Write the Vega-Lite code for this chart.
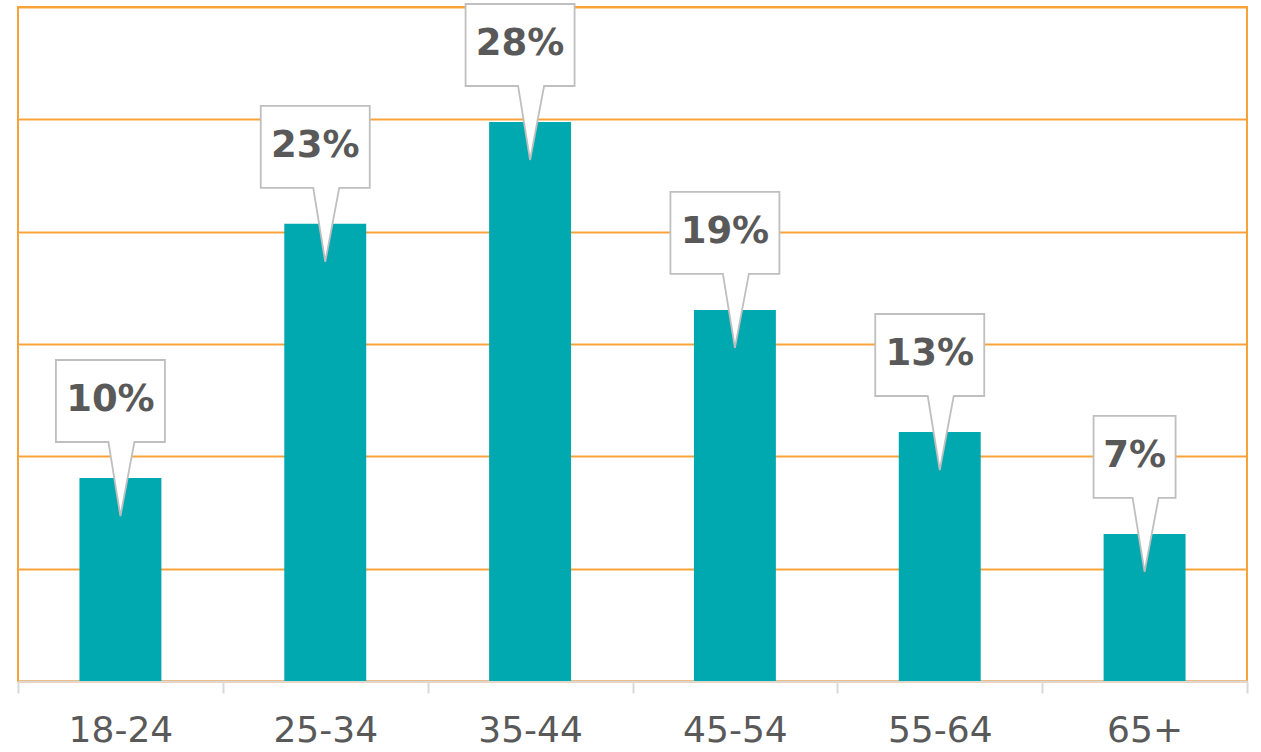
{
  "$schema": "https://vega.github.io/schema/vega-lite/v6.json",
  "width": 1229,
  "height": 674,
  "autosize": "none",
  "padding": {"left": 18, "top": 7, "right": 14, "bottom": 71},
  "background": "white",
  "view": {"stroke": "#F8A33A", "strokeWidth": 2},
  "data": {
    "values": [
      {"age": "18-24", "value": 0.1024},
      {"age": "25-34", "value": 0.2306},
      {"age": "35-44", "value": 0.282},
      {"age": "45-54", "value": 0.1872},
      {"age": "55-64", "value": 0.1256},
      {"age": "65+", "value": 0.0742}
    ]
  },
  "encoding": {
    "x": {
      "field": "age",
      "type": "nominal",
      "sort": null,
      "scale": {"paddingInner": 0, "paddingOuter": 0},
      "axis": {
        "title": null,
        "labelAngle": 0,
        "domainColor": "#D9D9D9",
        "domainWidth": 2,
        "tickColor": "#D9D9D9",
        "tickWidth": 2,
        "tickSize": 12,
        "tickBand": "extent",
        "labelFont": "DejaVu Sans",
        "labelFontSize": 36,
        "labelColor": "#595959",
        "labelPadding": 20,
        "grid": false
      }
    },
    "y": {
      "field": "value",
      "type": "quantitative",
      "scale": {"domain": [0, 0.34], "nice": false},
      "axis": {
        "title": null,
        "domain": false,
        "ticks": false,
        "labels": false,
        "grid": true,
        "gridColor": "#F8A33A",
        "gridWidth": 2,
        "values": [0, 0.056667, 0.113333, 0.17, 0.226667, 0.283333, 0.34]
      }
    }
  },
  "layer": [
    {"mark": {"type": "bar", "color": "#00A8B0", "width": {"band": 0.4}}},
    {
      "mark": {
        "type": "point",
        "size": 4,
        "filled": false,
        "fill": "white",
        "fillOpacity": 1,
        "stroke": "#BFBFBF",
        "strokeWidth": 1.8,
        "strokeOpacity": 1,
        "opacity": 1
      },
      "encoding": {
        "shape": {
          "condition": {
            "test": "datum.value < 0.1",
            "value": "M -51 -118 L 31 -118 L 31 -36 L 14 -36 L 0 38 L -12 -36 L -51 -36 Z"
          },
          "value": "M -64.5 -118 L 44.5 -118 L 44.5 -36 L 14 -36 L 0 38 L -12 -36 L -64.5 -36 Z"
        }
      }
    },
    {
      "mark": {
        "type": "text",
        "font": "DejaVu Sans",
        "fontWeight": "bold",
        "fontSize": 37,
        "color": "#595959",
        "align": "center",
        "baseline": "middle",
        "dx": -10,
        "dy": -78
      },
      "encoding": {
        "text": {"field": "value", "type": "quantitative", "format": ".0%"}
      }
    }
  ]
}
